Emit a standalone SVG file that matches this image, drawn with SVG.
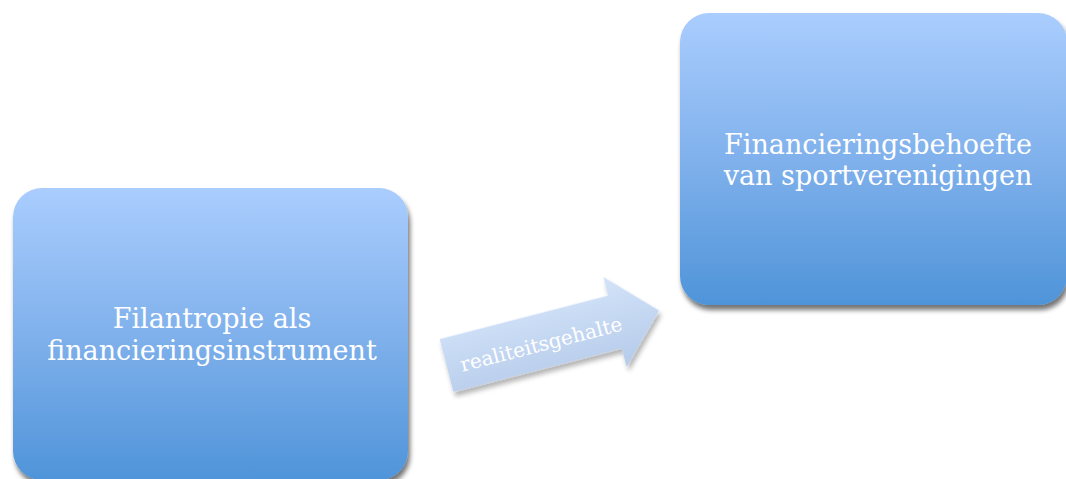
<svg xmlns="http://www.w3.org/2000/svg" width="1066" height="479" viewBox="0 0 1066 479">
<defs>
<linearGradient id="boxGrad" x1="0" y1="0" x2="0" y2="1">
<stop offset="0" stop-color="#aacdfe"/>
<stop offset="0.5" stop-color="#80b1ec"/>
<stop offset="1" stop-color="#4f94d9"/>
</linearGradient>
<linearGradient id="arrowGrad" x1="0" y1="0" x2="0" y2="1">
<stop offset="0" stop-color="#d3e3f9"/>
<stop offset="1" stop-color="#b5cbea"/>
</linearGradient>
<filter id="shadow" x="-10%" y="-10%" width="125%" height="125%">
<feGaussianBlur in="SourceAlpha" stdDeviation="2.5"/>
<feOffset dx="2" dy="5" result="b"/>
<feComponentTransfer><feFuncA type="linear" slope="0.55"/></feComponentTransfer>
<feMerge><feMergeNode/><feMergeNode in="SourceGraphic"/></feMerge>
</filter>
<filter id="ashadow" x="-10%" y="-20%" width="125%" height="150%">
<feGaussianBlur in="SourceAlpha" stdDeviation="2.5"/>
<feOffset dx="1" dy="5" result="b"/>
<feComponentTransfer><feFuncA type="linear" slope="0.3"/></feComponentTransfer>
<feMerge><feMergeNode/><feMergeNode in="SourceGraphic"/></feMerge>
</filter>
</defs>
<style>
.box{fill:url(#boxGrad);filter:url(#shadow)}
.lbl{font-family:"DejaVu Serif","Liberation Serif",serif;font-size:27px;fill:#ffffff;text-anchor:middle}
.albl{font-family:"DejaVu Serif","Liberation Serif",serif;font-size:20px;fill:#ffffff;text-anchor:middle}
</style>
<rect width="1066" height="479" fill="#ffffff"/>
<g id="connectors">
<g id="arrow" transform="translate(446.5,365.5) rotate(-14.5)">
<polygon points="0,-27.3 174,-27.3 174,-46.6 219.6,0 174,46.6 174,27.3 0,27.3" fill="url(#arrowGrad)" filter="url(#ashadow)"/>
<text class="albl" x="97" y="10">realiteitsgehalte</text>
</g>
</g>
<g id="node-filantropie">
<rect class="box" x="13" y="188" width="395" height="292" rx="29" ry="29"/>
<text class="lbl" x="212" y="328">Filantropie als</text>
<text class="lbl" x="212" y="360">financieringsinstrument</text>
</g>
<g id="node-financieringsbehoefte">
<rect class="box" x="680" y="13" width="387" height="292" rx="29" ry="29"/>
<text class="lbl" x="878" y="154">Financieringsbehoefte</text>
<text class="lbl" x="878" y="185">van sportverenigingen</text>
</g>
</svg>
